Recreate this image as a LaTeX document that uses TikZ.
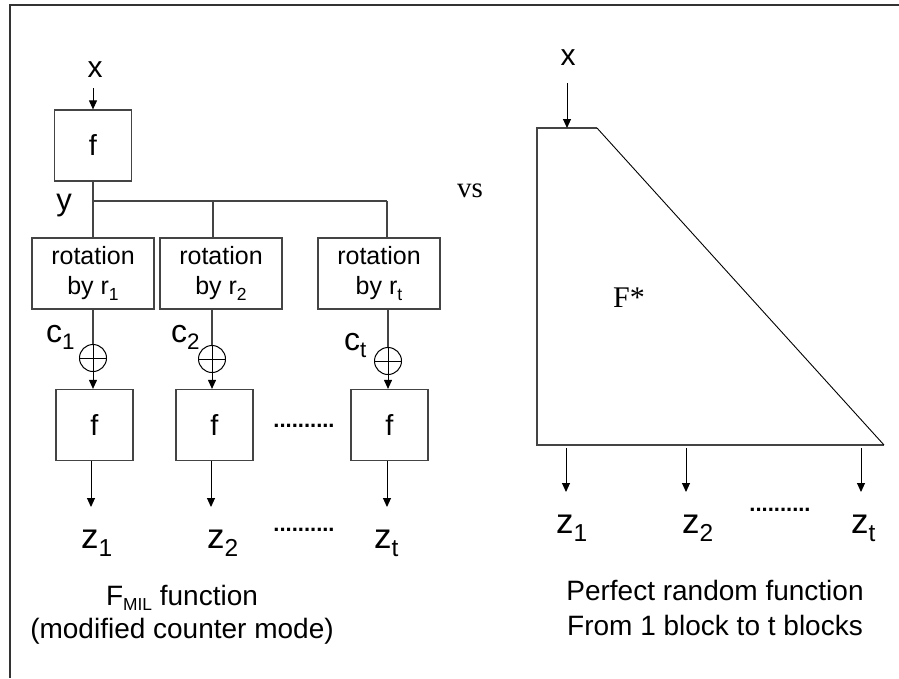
\documentclass[tikz,border=0pt]{standalone}
\usepackage{fontspec}
\usepackage{graphicx}
\setmainfont{Liberation Sans}
\newfontfamily\timesfont{Liberation Serif}
\usetikzlibrary{arrows.meta}
\newcommand\lowidx[1]{\raisebox{-0.45ex}{\scalebox{0.7}{#1}}}
\definecolor{boxgray}{HTML}{444444}
\tikzset{
  boxline/.style={draw=boxgray, line width=1.2pt},
  fbox/.style={boxline, minimum width=77pt, minimum height=71pt, inner sep=0pt, font=\fontsize{29}{30}\selectfont},
  rotbox/.style={boxline, minimum width=122pt, minimum height=71pt, inner sep=0pt, align=center, font=\fontsize{25}{30}\selectfont},
  xorc/.style={circle, draw=black, line width=1pt, minimum size=27pt, inner sep=0pt},
  wire/.style={draw=boxgray, line width=1.2pt},
  arr/.style={draw=black, line width=1pt, -{Triangle[length=9pt,width=8pt]}},
  lbl/.style={inner sep=0pt, anchor=base west},
  captxt/.style={inner sep=0pt, anchor=base, font=\fontsize{28}{30}\selectfont},
  dotstxt/.style={inner sep=0pt, anchor=base, font=\bfseries\fontsize{22}{24}\selectfont}
}
\begin{document}
\begin{tikzpicture}[x=1pt,y=-1pt]
\useasboundingbox (0,0) rectangle (899,678);
% frame
\draw[line width=2pt, black!80] (899,5) -- (10,5) -- (10,678);

% ---------- left diagram ----------
\node[inner sep=0pt, anchor=base, font=\fontsize{30}{30}\selectfont] (xl) at (95,77) {x};
\node[fbox] (f0) at (93,145.5) {f};
\coordinate (xin) at (93,88);
\draw[arr] (xin) -- (f0.north);
\node[inner sep=0pt, anchor=base, font=\fontsize{31}{30}\selectfont] (yl) at (64,210) {y};

\node[rotbox] (r1) at (93,273.5) {rotation\\by r\lowidx{1}};
\node[rotbox] (r2) at (221,273.5) {rotation\\by r\lowidx{2}};
\node[rotbox] (r3) at (379,273.5) {rotation\\by r\lowidx{t}};

\coordinate (j1) at (93,201);
\coordinate (j2) at (213,201);
\coordinate (j3) at (387,201);
\draw[wire] (f0.south) -- (j1) -- (j3);
\draw[wire] (j1) -- (r1.north);
\draw[wire] (j2) -- (j2 |- r2.north);
\draw[wire] (j3) -- (j3 |- r3.north);

\node[xorc] (o1) at (93,358) {};
\node[xorc] (o2) at (212,359) {};
\node[xorc] (o3) at (388,361) {};
\foreach \o in {o1,o2,o3}{
  \draw[line width=1pt] (\o.north) -- (\o.south) (\o.west) -- (\o.east);
}
\draw[wire] (r1.south) -- (o1.north);
\draw[wire] (o2 |- r2.south) -- (o2.north);
\draw[wire] (o3 |- r3.south) -- (o3.north);

\node[lbl, font=\fontsize{32}{30}\selectfont] (c1) at (46,342) {c\lowidx{1}};
\node[lbl, font=\fontsize{32}{30}\selectfont] (c2) at (171,342) {c\lowidx{2}};
\node[lbl, font=\fontsize{32}{30}\selectfont] (c3) at (344,350) {c\lowidx{t}};

\node[fbox] (f1) at (94.5,425) {f};
\node[fbox] (f2) at (214.5,425) {f};
\node[fbox] (f3) at (389.5,425) {f};
\draw[arr] (o1.south) -- (o1 |- f1.north);
\draw[arr] (o2.south) -- (o2 |- f2.north);
\draw[arr] (o3.south) -- (o3 |- f3.north);

\node[dotstxt] (d1) at (304,427) {..........};

\coordinate (e1) at (91,507);
\coordinate (e2) at (211,507);
\coordinate (e3) at (387,507);
\draw[arr] (e1 |- f1.south) -- (e1);
\draw[arr] (e2 |- f2.south) -- (e2);
\draw[arr] (e3 |- f3.south) -- (e3);

\node[lbl, font=\fontsize{35}{34}\selectfont] (z1) at (81,548) {z\lowidx{1}};
\node[lbl, font=\fontsize{35}{34}\selectfont] (z2) at (207,548) {z\lowidx{2}};
\node[lbl, font=\fontsize{35}{34}\selectfont] (z3) at (374,548) {z\lowidx{t}};
\node[dotstxt] (d2) at (304,531) {..........};

\node[captxt] (capl1) at (182,605) {F\raisebox{-0.35ex}{\scalebox{0.62}{MIL}} function};
\node[captxt] (capl2) at (182,638) {(modified counter mode)};

% ---------- middle ----------
\node[inner sep=0pt, anchor=base, font=\timesfont\fontsize{29}{30}\selectfont] (vs) at (470,197) {vs};

% ---------- right diagram ----------
\node[inner sep=0pt, anchor=base, font=\fontsize{30}{30}\selectfont] (xr) at (568,65) {x};
\coordinate (t1) at (537,128);
\coordinate (t2) at (597,128);
\coordinate (t3) at (884,445);
\coordinate (t4) at (537,445);
\draw[line width=1.2pt, boxgray] (t2) -- (t1) -- (t4) -- (t3);
\draw[line width=0.9pt, black] (t2) -- (t3);
\coordinate (xrin) at (567,83);
\coordinate (xrend) at (567,128);
\draw[arr] (xrin) -- (xrend);
\node[inner sep=0pt, anchor=base, font=\timesfont\fontsize{30}{30}\selectfont] (Fs) at (629,307) {F*};

\coordinate (s1) at (566,448);
\coordinate (s2) at (686,448);
\coordinate (s3) at (861,448);
\coordinate (g1) at (566,492);
\coordinate (g2) at (686,492);
\coordinate (g3) at (861,492);
\draw[arr] (s1) -- (g1);
\draw[arr] (s2) -- (g2);
\draw[arr] (s3) -- (g3);

\node[lbl, font=\fontsize{35}{34}\selectfont] (zr1) at (556,533) {z\lowidx{1}};
\node[lbl, font=\fontsize{35}{34}\selectfont] (zr2) at (682,533) {z\lowidx{2}};
\node[lbl, font=\fontsize{35}{34}\selectfont] (zr3) at (851,533) {z\lowidx{t}};
\node[dotstxt] (d3) at (780,511) {..........};

\node[captxt] (capr1) at (715,600) {Perfect random function};
\node[captxt] (capr2) at (715,635) {From 1 block to t blocks};
\end{tikzpicture}
\end{document}
